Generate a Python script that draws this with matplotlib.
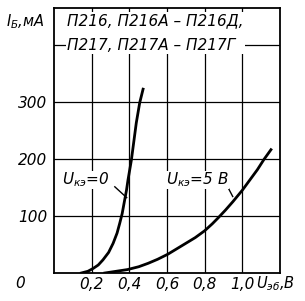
import matplotlib
matplotlib.use('Agg')
import matplotlib.pyplot as plt

plt.rcParams['font.family'] = 'DejaVu Sans'
plt.rcParams['font.style'] = 'italic'
plt.rcParams['mathtext.fontset'] = 'custom'
plt.rcParams['mathtext.rm'] = 'DejaVu Sans:italic'
plt.rcParams['mathtext.it'] = 'DejaVu Sans:italic'

# Uкэ = 0
u0 = [0.145, 0.18, 0.208, 0.235, 0.26, 0.29, 0.314, 0.335, 0.349, 0.362, 0.372,
      0.385, 0.393, 0.411, 0.437, 0.455, 0.473]
i0 = [0, 3, 8, 14, 23, 36, 52, 70, 87, 104, 122, 145, 163, 198, 263, 298, 322]
# Uкэ = 5 В
u5 = [0.27, 0.33, 0.39, 0.45, 0.50, 0.55, 0.605, 0.65, 0.70, 0.75, 0.80, 0.84,
      0.87, 0.91, 0.95, 1.00, 1.04, 1.08, 1.115, 1.152]
i5 = [0, 3, 6, 11, 17, 24, 33, 42, 52, 62, 74, 86, 96, 110, 125, 145, 163,
      181, 199, 216]

xticks = [0.2, 0.4, 0.6, 0.8, 1.0]
xlabels = ['0,2', '0,4', '0,6', '0,8', '1,0']
yticks = [100, 200, 300, 400]
ylabels = ['100', '200', '300', '']

fig = plt.figure(figsize=(3.05, 3.01), dpi=100)
ax = fig.add_axes([0.177, 0.093, 0.741, 0.882])

ax.plot(u0, i0, color='black', lw=2.0, solid_joinstyle='round')
ax.plot(u5, i5, color='black', lw=2.0, solid_joinstyle='round')

ax.set_xlim(0, 1.2)
ax.set_ylim(0, 465)
ax.set_xticks(xticks)
ax.set_xticklabels(xlabels, fontsize=11)
ax.set_yticks(yticks)
ax.set_yticklabels(ylabels, fontsize=11)
ax.tick_params(axis='x', length=0, pad=3)
ax.tick_params(axis='y', length=0, pad=5)
ax.grid(True, color='black', lw=0.9)
for s in ax.spines.values():
    s.set_linewidth(1.3)

# corner zero and axis labels
ax.text(-0.18, -19, '0', fontsize=11, ha='center', va='center')
ax.text(1.07, -19, r'$U_{эб}$,В', fontsize=10.5, ha='left', va='center')
ax.text(-0.255, 440, r'$I_{Б}$,мА', fontsize=10.5, ha='left', va='center')

# device names
ax.text(0.07, 420, 'П216, П216А – П216Д,\nП217, П217А – П217Г', fontsize=11,
        ha='left', va='center', linespacing=1.8,
        bbox=dict(facecolor='white', edgecolor='none', pad=1))

# curve labels with leaders
ax.text(0.04, 163, r'$U_{кэ}$=0', fontsize=11, ha='left', va='center',
        bbox=dict(facecolor='white', edgecolor='none', pad=0))
ax.plot([0.323, 0.386], [151, 132], color='black', lw=1.0)
ax.text(0.595, 163, r'$U_{кэ}$=5 В', fontsize=11, ha='left', va='center',
        bbox=dict(facecolor='white', edgecolor='none', pad=0))
ax.plot([0.922, 0.949], [151, 134], color='black', lw=1.0)

fig.savefig('out.png', dpi=100)
